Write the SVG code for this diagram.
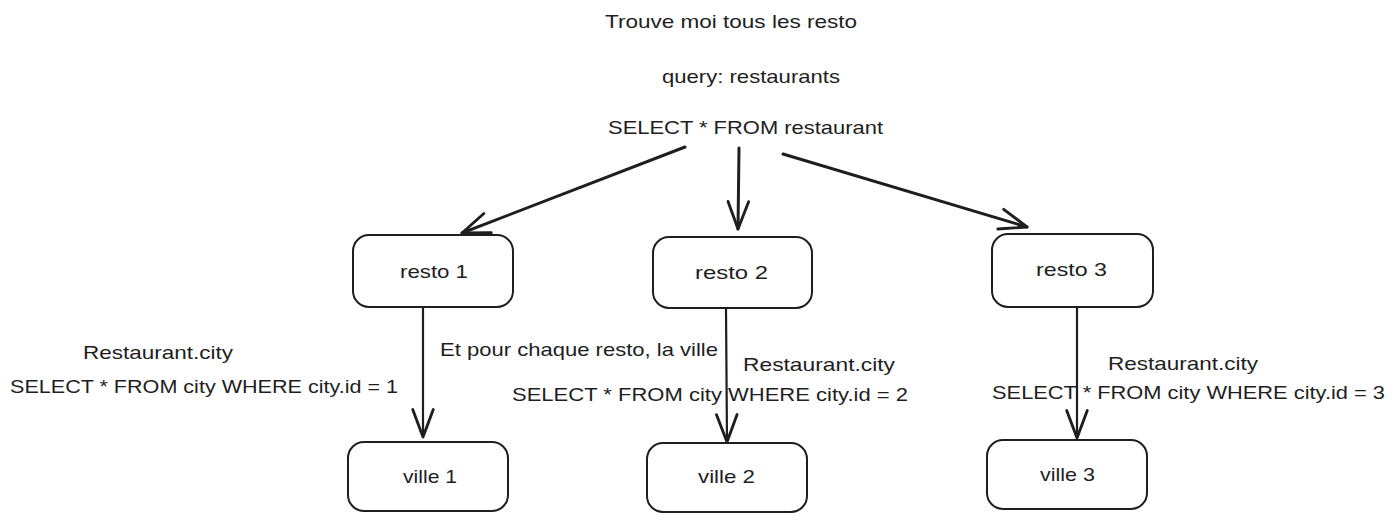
<svg xmlns="http://www.w3.org/2000/svg" width="1396" height="523" viewBox="0 0 1396 523">
<style>
.box{fill:#fff;stroke:#1e1e1e;stroke-width:2}
.t{font-family:"Liberation Sans",Arial,sans-serif;font-size:19px;fill:#1e1e1e}
.c{fill:none;stroke:#1e1e1e;stroke-linecap:round}
</style>
<defs>
<marker id="ah" markerUnits="userSpaceOnUse" markerWidth="40" markerHeight="40" refX="0" refY="0" viewBox="-30 -15 35 30" orient="auto">
<path d="M-24,-9 L0,0 L-24,9" fill="none" stroke="#1e1e1e" stroke-width="2.5" stroke-linecap="round" stroke-linejoin="round"/>
</marker>
</defs>
<rect width="1396" height="523" fill="#fff"/>
<g id="labels">
<text class="t" x="605" y="28" textLength="252" lengthAdjust="spacingAndGlyphs">Trouve moi tous les resto</text>
<text class="t" x="662" y="83" textLength="178" lengthAdjust="spacingAndGlyphs">query: restaurants</text>
<text class="t" x="608" y="134" textLength="275" lengthAdjust="spacingAndGlyphs">SELECT * FROM restaurant</text>
<text class="t" x="83" y="359" textLength="150" lengthAdjust="spacingAndGlyphs">Restaurant.city</text>
<text class="t" x="10" y="393" textLength="388" lengthAdjust="spacingAndGlyphs">SELECT * FROM city WHERE city.id = 1</text>
<text class="t" x="440" y="356" textLength="278" lengthAdjust="spacingAndGlyphs">Et pour chaque resto, la ville</text>
<text class="t" x="743" y="371" textLength="152" lengthAdjust="spacingAndGlyphs">Restaurant.city</text>
<text class="t" x="512" y="401" textLength="396" lengthAdjust="spacingAndGlyphs">SELECT * FROM city WHERE city.id = 2</text>
<text class="t" x="1108" y="370" textLength="150" lengthAdjust="spacingAndGlyphs">Restaurant.city</text>
<text class="t" x="992" y="399" textLength="393" lengthAdjust="spacingAndGlyphs">SELECT * FROM city WHERE city.id = 3</text>
</g>
<g id="connectors">
<path class="c" d="M685,147 L462,233" stroke-width="3" marker-end="url(#ah)"/>
<path class="c" d="M739,148 L738,229" stroke-width="3" marker-end="url(#ah)"/>
<path class="c" d="M783,154 L1027,227" stroke-width="3" marker-end="url(#ah)"/>
<path class="c" d="M423,307 L423,437" stroke-width="2.2" marker-end="url(#ah)"/>
<path class="c" d="M726,309 L727,442" stroke-width="2.2" marker-end="url(#ah)"/>
<path class="c" d="M1077,307 L1077,438" stroke-width="2.2" marker-end="url(#ah)"/>
</g>
<g id="resto1"><rect class="box" x="353" y="235" width="160" height="72" rx="16"/><text class="t" x="400" y="278" textLength="68" lengthAdjust="spacingAndGlyphs">resto 1</text></g>
<g id="resto2"><rect class="box" x="653" y="237" width="159" height="71" rx="16"/><text class="t" x="695" y="279" textLength="73" lengthAdjust="spacingAndGlyphs">resto 2</text></g>
<g id="resto3"><rect class="box" x="992" y="234" width="161" height="73" rx="16"/><text class="t" x="1036" y="276" textLength="71" lengthAdjust="spacingAndGlyphs">resto 3</text></g>
<g id="ville1"><rect class="box" x="348" y="442" width="160" height="69" rx="16"/><text class="t" x="403" y="483" textLength="54" lengthAdjust="spacingAndGlyphs">ville 1</text></g>
<g id="ville2"><rect class="box" x="647" y="443" width="160" height="69" rx="16"/><text class="t" x="698" y="483" textLength="57" lengthAdjust="spacingAndGlyphs">ville 2</text></g>
<g id="ville3"><rect class="box" x="987" y="440" width="160" height="69" rx="16"/><text class="t" x="1040" y="481" textLength="55" lengthAdjust="spacingAndGlyphs">ville 3</text></g>
</svg>
